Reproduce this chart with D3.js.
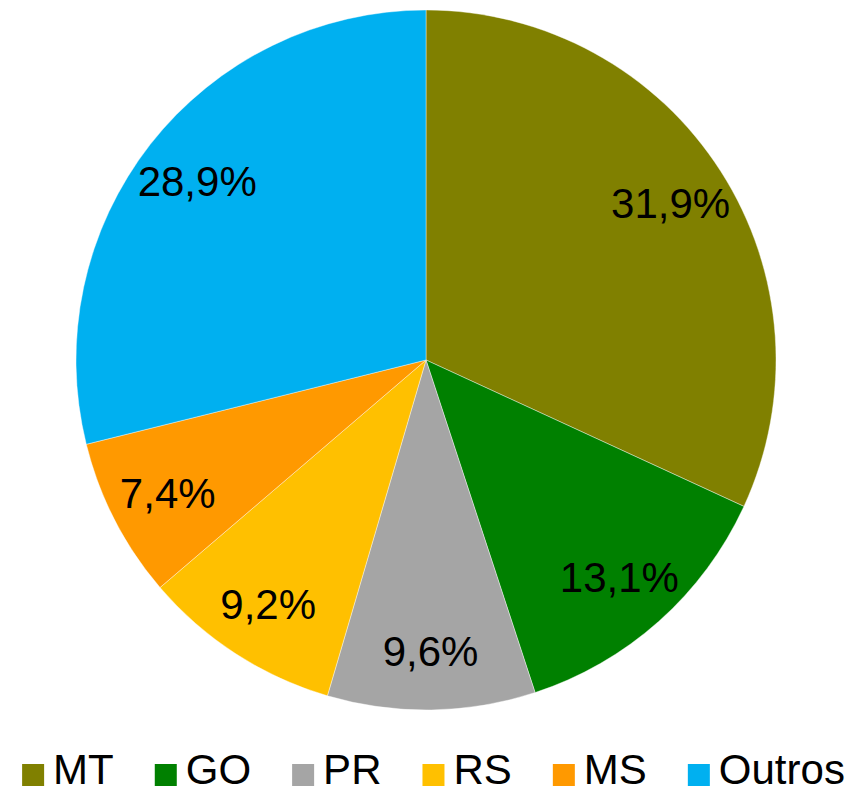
<!DOCTYPE html>
<html><head><meta charset="utf-8">
<script src="https://cdn.jsdelivr.net/npm/d3@7"></script>
<style>html,body{margin:0;padding:0;background:#fff;}svg{display:block;}</style>
</head><body>
<svg id="chart" width="851" height="793"></svg>
<script>
const categories = ["MT", "GO", "PR", "RS", "MS", "Outros"];
const values = [31.9, 13.1, 9.6, 9.2, 7.4, 28.9];
const labels = ["31,9%", "13,1%", "9,6%", "9,2%", "7,4%", "28,9%"];
const colors = ["#808000", "#008000", "#A5A5A5", "#FFC000", "#FF9900", "#00B0F0"];

const svg = d3.select("#chart");
const cx = 426, cy = 360, r = 350;
const font = "'Liberation Sans', Arial, sans-serif";

const data = categories.map((c, i) => ({cat: c, value: values[i], label: labels[i], color: colors[i]}));
const pie = d3.pie().value(d => d.value).sort(null);
const arcs = pie(data);
const arc = d3.arc().innerRadius(0).outerRadius(r);
const labelArc = d3.arc().innerRadius(r * 0.83).outerRadius(r * 0.83);

const g = svg.append("g").attr("transform", `translate(${cx},${cy})`);
g.selectAll("path").data(arcs).join("path")
  .attr("d", arc).attr("fill", d => d.data.color)
  .attr("stroke", "#fff").attr("stroke-width", 0.4);

g.selectAll("text").data(arcs).join("text")
  .attr("transform", d => `translate(${labelArc.centroid(d)})`)
  .attr("text-anchor", "middle").attr("dy", "0.36em")
  .attr("font-family", font).attr("font-size", 42).attr("fill", "#000")
  .text(d => d.data.label);

// legend
const lg = svg.append("g");
const items = lg.selectAll("g").data(data).join("g");
items.append("rect").attr("width", 22).attr("height", 22).attr("y", 764).attr("fill", d => d.color);
items.append("text").attr("x", 31).attr("y", 784)
  .attr("font-family", font).attr("font-size", 42).attr("fill", "#000")
  .text(d => d.cat);
let x = 0;
const spacing = 41;
items.each(function(d) {
  const w = d3.select(this).select("text").node().getComputedTextLength();
  d3.select(this).attr("transform", `translate(${x},0)`);
  x += 31 + w + spacing;
});
const total = x - spacing;
lg.attr("transform", `translate(${433.5 - total / 2},0)`);
</script>
</body></html>
